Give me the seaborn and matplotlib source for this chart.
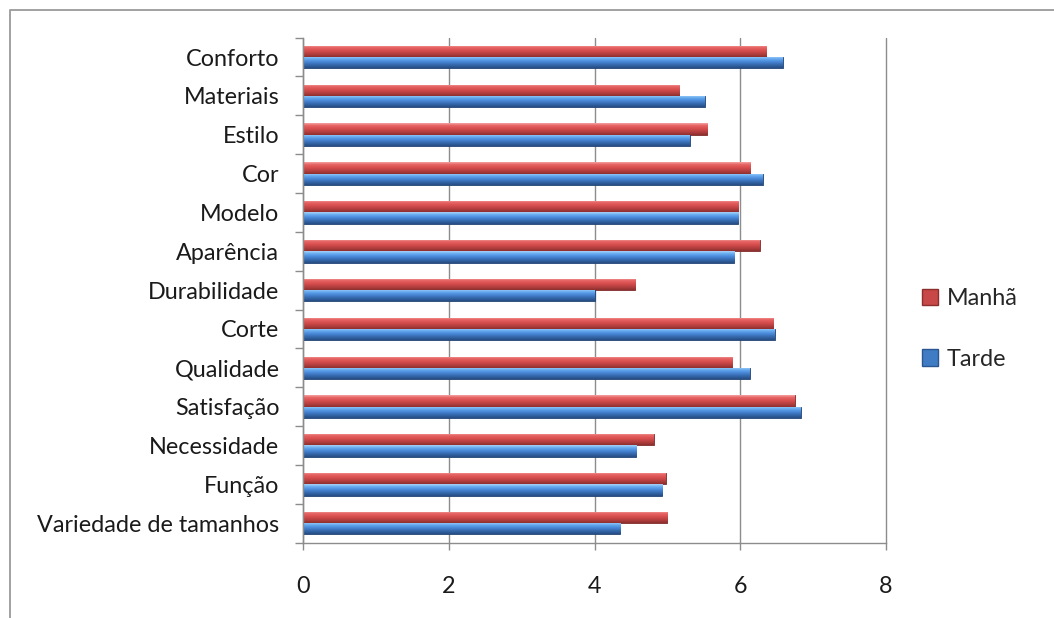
import matplotlib
matplotlib.use("Agg")
import matplotlib.pyplot as plt
from matplotlib.patches import Patch
from matplotlib.lines import Line2D
from matplotlib.ticker import FixedLocator
from matplotlib.colors import to_rgb
import seaborn as sns
import pandas as pd
import numpy as np

categories = ["Conforto", "Materiais", "Estilo", "Cor", "Modelo", "Aparência",
              "Durabilidade", "Corte", "Qualidade", "Satisfação", "Necessidade",
              "Função", "Variedade de tamanhos"]
manha = [6.36, 5.16, 5.55, 6.14, 5.97, 6.27, 4.56, 6.45, 5.89, 6.75, 4.81, 4.98, 5.00]
tarde = [6.58, 5.51, 5.31, 6.31, 5.97, 5.92, 4.00, 6.47, 6.13, 6.83, 4.57, 4.93, 4.35]
series = ["Manhã", "Tarde"]
xticks = [0, 2, 4, 6, 8]

df = pd.DataFrame({
    "cat": categories * 2,
    "val": manha + tarde,
    "serie": [series[0]] * len(categories) + [series[1]] * len(categories),
})

sns.set_theme(style="white")
plt.rcParams["font.family"] = ["Lato", "DejaVu Sans"]

fig = plt.figure(figsize=(10.54, 6.18), dpi=100)
ax = fig.add_axes([303/1054, 1 - 542.6/618, (886-303)/1054, (542.6-37.6)/618])

red = "#D9504E"
blue = "#3D7BC6"
grad = {
    red: ["#F4A0A0", "#E66464", "#D84E4E", "#B43E3E", "#8E3030"],
    blue: ["#A8D2F8", "#6AAEF0", "#4A8ADA", "#3467AA", "#274E84"],
}
sns.barplot(data=df, y="cat", x="val", hue="serie", hue_order=series,
            order=categories, palette=[red, blue], width=0.58, gap=0.0,
            ax=ax, legend=False, saturation=1)

patches = list(ax.patches)
for p in patches:
    fc = matplotlib.colors.to_hex(p.get_facecolor())
    key = red if abs(to_rgb(fc)[0] - to_rgb(red)[0]) < 0.1 else blue
    stops = np.array([to_rgb(c) for c in grad[key]])
    n = 40
    t = np.linspace(0, 1, n)
    pos = np.array([0.0, 0.2, 0.45, 0.75, 1.0])
    img = np.stack([np.interp(t, pos, stops[:, k]) for k in range(3)], axis=1)
    img = img[:, None, :]
    x0, y0, w, h = p.get_x(), p.get_y(), p.get_width(), p.get_height()
    im = ax.imshow(img, extent=(x0, x0 + w, y0 + h, y0), origin="upper",
                   aspect="auto", interpolation="bilinear", zorder=p.get_zorder() + 0.1)
    im.set_clip_path(p)
    p.set_edgecolor(tuple(np.array(to_rgb(grad[key][-1])) * 0.85))
    p.set_linewidth(0.6)

ax.set_xlim(0, 8)
ax.set_ylim(len(categories) - 0.5, -0.5)
ax.set_xticks(xticks)
ax.set_xticklabels([str(t) for t in xticks])
ax.set_xlabel("")
ax.set_ylabel("")
ax.xaxis.grid(True, color="#8C8C8C", linewidth=1.0)
for gl in ax.get_xgridlines():
    gl.set_clip_on(False)
ax.set_axisbelow(True)
for s in ["top", "right"]:
    ax.spines[s].set_visible(False)
for s in ["left", "bottom"]:
    ax.spines[s].set_color("#8C8C8C")
    ax.spines[s].set_linewidth(1.0)

ax.tick_params(axis="x", which="major", direction="out", length=5, width=1,
               color="#8C8C8C", labelsize=16.8, pad=19, labelcolor="#1a1a1a", bottom=True)
ax.tick_params(axis="y", which="major", length=0, labelsize=16.8, pad=17, labelcolor="#1a1a1a")
ax.yaxis.set_minor_locator(FixedLocator(np.arange(-0.5, len(categories), 1.0)))
ax.tick_params(axis="y", which="minor", direction="out", length=6, width=1,
               color="#8C8C8C", left=True)

handles = [Patch(facecolor="#C84848", edgecolor="#8B2E2D", label=series[0]),
           Patch(facecolor="#3F7CC4", edgecolor="#2A5590", label=series[1])]
fig.legend(handles=handles, loc="center left", bbox_to_anchor=(901/1054, 1 - 329/618),
           frameon=False, fontsize=16.8, labelspacing=1.7, handlelength=0.7,
           handleheight=0.7, handletextpad=0.35)

fig.lines.append(Line2D([10/1054, 10/1054, 1.0], [0.0, 1 - 10/618, 1 - 10/618],
                        transform=fig.transFigure, color="#9A9A9A", linewidth=1.3))

fig.savefig("out.png", dpi=100, facecolor="white")
